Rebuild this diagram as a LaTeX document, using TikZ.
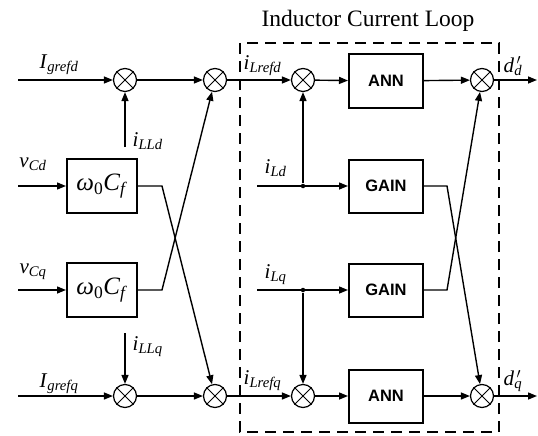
\documentclass[tikz,border=0pt]{standalone}
\usepackage{fontspec}
\setmainfont{Liberation Serif}
\newfontfamily\annfont{Liberation Sans}
\usetikzlibrary{arrows.meta}
\newcommand{\lb}[2]{\textit{#1}\textsubscript{\textit{#2}}}
\begin{document}
\begin{tikzpicture}[x=1pt,y=-1pt,line width=1.4pt,
  sumnode/.style={circle,draw,line width=1.2pt,minimum size=23pt,inner sep=0pt},
  blk/.style={draw,line width=2pt,minimum width=74pt,minimum height=53pt,font=\annfont\bfseries\fontsize{16.5}{16.5}\selectfont},
  wblk/.style={draw,line width=2pt,minimum width=70pt,minimum height=54pt,font=\fontsize{25}{25}\selectfont},
  arr/.style={-{Triangle[length=9pt,width=7pt]}},
  lab/.style={font=\fontsize{21}{21}\selectfont,inner sep=0pt},
  jdot/.style={circle,fill,inner sep=0pt,minimum size=4.5pt}]
\useasboundingbox (0,0) rectangle (538,436);
% summing junctions
\node[sumnode] (s1) at (125,80) {};
\node[sumnode] (s2) at (215,80) {};
\node[sumnode] (s3) at (303,80) {};
\node[sumnode] (s4) at (482,80) {};
\node[sumnode] (t1) at (125,396) {};
\node[sumnode] (t2) at (215,396) {};
\node[sumnode] (t3) at (303,396) {};
\node[sumnode] (t4) at (482,396) {};
\foreach \s in {s1,s2,s3,s4,t1,t2,t3,t4}
  \draw[line width=1pt] (\s.45)--(\s.225) (\s.135)--(\s.315);
% blocks
\node[wblk] (w1) at (102,186) {\textit{ω}\textsubscript{0}\textit{C}\textsubscript{\textit{f}}};
\node[wblk] (w2) at (102,290) {\textit{ω}\textsubscript{0}\textit{C}\textsubscript{\textit{f}}};
\node[blk] (a1) at (386,81) {ANN};
\node[blk] (g1) at (386,186) {GAIN};
\node[blk] (g2) at (386,290) {GAIN};
\node[blk] (a2) at (386,396) {ANN};
% coordinates
\coordinate (in1) at (18,80);
\coordinate (in2) at (18,396);
\coordinate (vcd) at (18,186);
\coordinate (vcq) at (18,290);
\coordinate (ild) at (125,147);
\coordinate (ilq) at (125,333);
\coordinate (o1) at (537,80);
\coordinate (o2) at (537,396);
\coordinate (b1) at (162,186);
\coordinate (b2) at (162,290);
\coordinate (b3) at (447,186);
\coordinate (b4) at (447,290);
\coordinate (ld) at (257,186);
\coordinate (lq) at (257,290);
\node[jdot] (d1) at (303,186) {};
\node[jdot] (d2) at (303,290) {};
% dashed loop box
\draw[line width=2.4pt,dash pattern=on 11pt off 7pt] (240,43) rectangle (499,432);
\node[font=\fontsize{23.5}{23.5}\selectfont] (title) at (368,21) {Inductor Current Loop};
% top row
\draw[arr] (in1) -- (s1);
\draw[arr] (ild) -- (s1);
\draw[arr] (s1) -- (s2);
\draw[arr] (s2) -- (s3);
\draw[arr] (s3) -- (a1);
\draw[arr] (a1) -- (s4);
\draw[arr] (s4) -- (o1);
% bottom row
\draw[arr] (in2) -- (t1);
\draw[arr] (ilq) -- (t1);
\draw[arr] (t1) -- (t2);
\draw[arr] (t2) -- (t3);
\draw[arr] (t3) -- (a2);
\draw[arr] (a2) -- (t4);
\draw[arr] (t4) -- (o2);
% omega blocks
\draw[arr] (vcd) -- (w1);
\draw[arr] (vcq) -- (w2);
\draw[arr] (w1.east) -- (b1) -- (t2);
\draw[arr] (w2.east) -- (b2) -- (s2);
% inner loop
\draw[arr] (ld) -- (g1);
\draw[arr] (lq) -- (g2);
\draw[arr] (d1) -- (s3);
\draw[arr] (d2) -- (t3);
\draw[arr] (g1.east) -- (b3) -- (t4);
\draw[arr] (g2.east) -- (b4) -- (s4);
% labels
\node[lab] (l1) at (59,65) {\lb{I}{grefd}};
\node[lab] (l2) at (59,384) {\lb{I}{grefq}};
\node[lab,anchor=west] (l3) at (132,141) {\lb{i}{LLd}};
\node[lab,anchor=west] (l4) at (132,347) {\lb{i}{LLq}};
\node[lab] (l5) at (33,164) {\lb{v}{Cd}};
\node[lab] (l6) at (33,272) {\lb{v}{Cq}};
\node[lab,anchor=west] (l7) at (243,66) {\lb{i}{Lrefd}};
\node[lab,anchor=west] (l8) at (243,381) {\lb{i}{Lrefq}};
\node[lab,anchor=west] (l9) at (264,168) {\lb{i}{Ld}};
\node[lab,anchor=west] (l10) at (264,275) {\lb{i}{Lq}};
\node[lab,anchor=west] (l11) at (503,66) {\textit{d}\rlap{\textsubscript{\textit{d}}}\textsuperscript{\,$\prime$}};
\node[lab,anchor=west] (l12) at (503,381) {\textit{d}\rlap{\textsubscript{\textit{q}}}\textsuperscript{\,$\prime$}};
\end{tikzpicture}
\end{document}
